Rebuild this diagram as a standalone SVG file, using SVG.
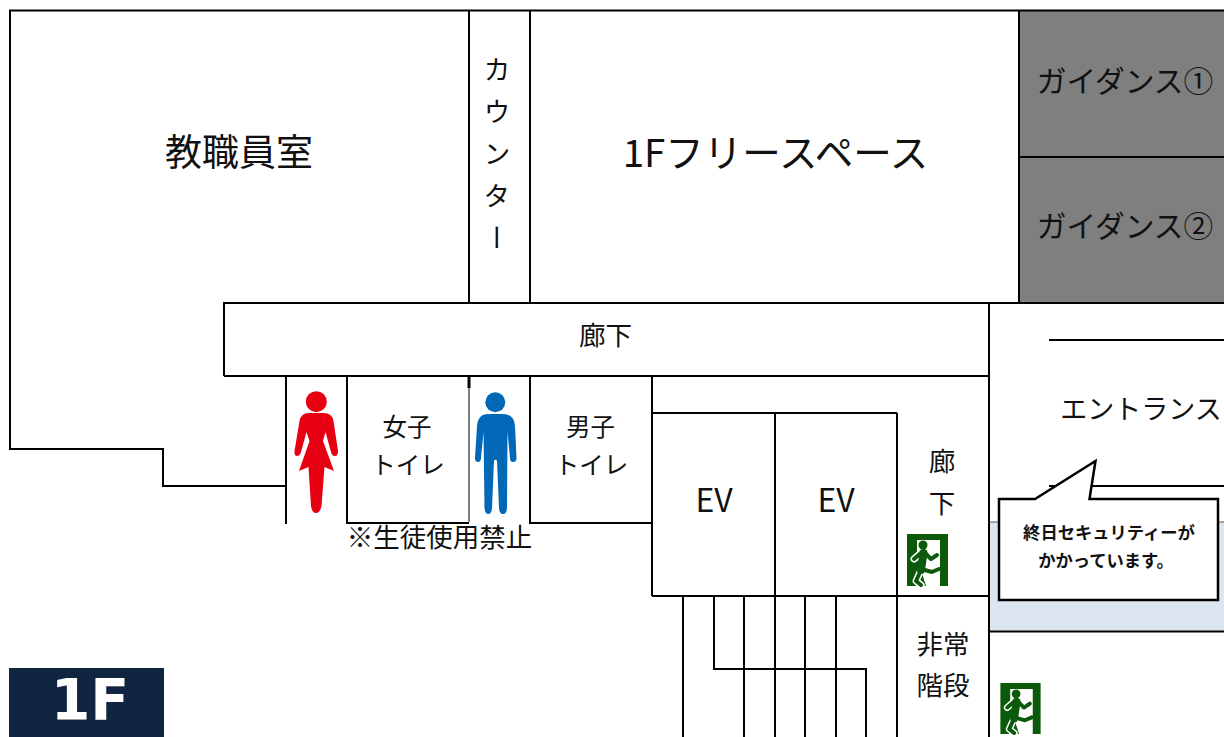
<svg xmlns="http://www.w3.org/2000/svg" width="1224" height="737" viewBox="0 0 1224 737">
<style>
text{font-family:"Noto Sans CJK JP","Noto Sans",sans-serif;fill:#111;text-anchor:middle}
.w{fill:none;stroke:#000;stroke-width:2}
.s26{font-size:26.500px}.s24{font-size:24.500px}.s29{font-size:32px}.s37{font-size:37px}
.c{font-size:17.300px;font-weight:700}
.run{fill:none;stroke-linejoin:round;stroke-linecap:round}
</style>
<defs>
<symbol id="exit" viewBox="0 0 41 52" overflow="visible">
<rect width="41" height="52" fill="#0b5a0b"/>
<path d="M10 6H33V52H19L14 36L10 21Z" fill="#fff"/>
<path class="run" d="M15 18L7 25M14 36L9 47L14 51" stroke="#fff" stroke-width="7"/>
<path class="run" d="M16.500 19L14 36" stroke="#0b5a0b" stroke-width="8"/>
<path class="run" d="M15 18L7 25M14 36L9 47L14 51M17 18L24 25L30 21M14 35L25 38L32 35" stroke="#0b5a0b" stroke-width="4"/>
<circle cx="16" cy="11" r="4.500" fill="#0b5a0b"/>
</symbol>
</defs>
<rect width="1224" height="737" fill="#fff"/>
<rect x="1019" y="10" width="205" height="293" fill="#7f7f7f"/>
<rect x="989" y="522" width="235" height="109" fill="#dce6f1"/>
<g id="walls" class="w">
<path d="M1224 10.500H10V449H163V486H286"/>
<path d="M469 10V303M530 10V303M1019 10V303M1019 157H1224"/>
<path d="M224 376V303H1224M224 376H989"/>
<path d="M286 376V524"/>
<path d="M347 376V523H469M530 376V523H652"/>
<path d="M469 376V388" stroke-width="3"/>
<path d="M469 388V522" stroke-width="1"/>
<path d="M652 376V596M652 413H897M775 413V596M897 413V737M652 596H989"/>
<path d="M989 303V737M1049 340H1224M1049 486H1224M989 631.500H1224"/>
<path d="M989 522H1224" stroke-width="1" stroke="#555"/>
</g>
<g id="stairs" class="w">
<path d="M683 596V737M744 596V737M775 596V737M805 596V737M836 596V737"/>
<path d="M714 596V669H866V737"/>
</g>
<g id="women-icon"><circle cx="316.300" cy="401.700" r="10.500" fill="#e60012"/>
<path d="M309 413H324Q332 413 333.500 421L338 451Q338 456 335 456Q332 456 331 452L325.500 432L323 441L334 471L324.500 467L321.500 506Q320 513 316 513Q312 513 311 506L308.500 467L299 471L309.500 441L306.500 432L301 452Q300 456 297 456Q294 456 294.500 451L299.500 421Q301 413 309 413Z" fill="#e60012"/></g>
<g id="men-icon"><circle cx="495.300" cy="402.300" r="10" fill="#0068b7"/>
<path d="M488 414H503Q514 414 515 426L516.500 458Q516.500 462 513 462Q510 462 510 458L507.500 432L507 508Q506.500 514 503 514Q499.500 514 499 508L497 461Q495.500 458 494 461L492 508Q491.500 514 488.500 514Q485 514 484.500 508L483.500 432L481 458Q481 462 478 462Q475 462 475 458L477 426Q478 414 488 414Z" fill="#0068b7"/></g>
<g id="room-teachers"><text class="s37" x="239" y="166">教職員室</text></g>
<g id="room-counter"><text x="497" y="56" font-size="27" letter-spacing="15" style="writing-mode:vertical-rl;text-anchor:start">カウンター</text></g>
<g id="room-free"><text x="775.500" y="167" font-size="38.500">1Fフリースペース</text></g>
<g id="room-guidance1"><text x="1125" y="92" font-size="29.700">ガイダンス①</text></g>
<g id="room-guidance2"><text x="1125" y="237" font-size="29.700">ガイダンス②</text></g>
<g id="corridor1"><text class="s26" x="605.500" y="345">廊下</text></g>
<g id="toilet-f"><text class="s24" x="407" y="436">女子</text><text class="s24" x="408" y="474">トイレ</text></g>
<g id="toilet-m"><text class="s24" x="590.500" y="436">男子</text><text class="s24" x="591.500" y="474">トイレ</text></g>
<g id="note"><text x="439.500" y="547" font-size="26.500">※生徒使用禁止</text></g>
<g id="ev1"><text class="s29" x="714" y="512">EV</text></g>
<g id="ev2"><text class="s29" x="836" y="512">EV</text></g>
<g id="corridor2"><text class="s26" x="942" y="471">廊</text><text class="s26" x="942" y="513">下</text></g>
<g id="stairs-label"><text class="s26" x="943" y="654">非常</text><text class="s26" x="943" y="695">階段</text></g>
<g id="entrance"><text x="1141" y="419" font-size="27">エントランス</text></g>
<g id="callout">
<path d="M999 499H1035L1095.500 461L1089.500 499H1218V600H999Z" fill="#fff" stroke="#000" stroke-width="2.500"/>
<text class="c" x="1109" y="539">終日セキュリティーが</text>
<text class="c" x="1106" y="567">かかっています。</text>
</g>
<use id="exit1" href="#exit" x="907" y="534" width="41" height="52"/>
<use id="exit2" href="#exit" x="1000" y="683" width="41" height="51"/>
<g id="floor"><rect x="9" y="668" width="155" height="69" fill="#10253f"/>
<text x="90" y="720" font-size="57" font-weight="700" style="font-family:'DejaVu Sans',sans-serif;fill:#fff">1F</text></g>
</svg>
